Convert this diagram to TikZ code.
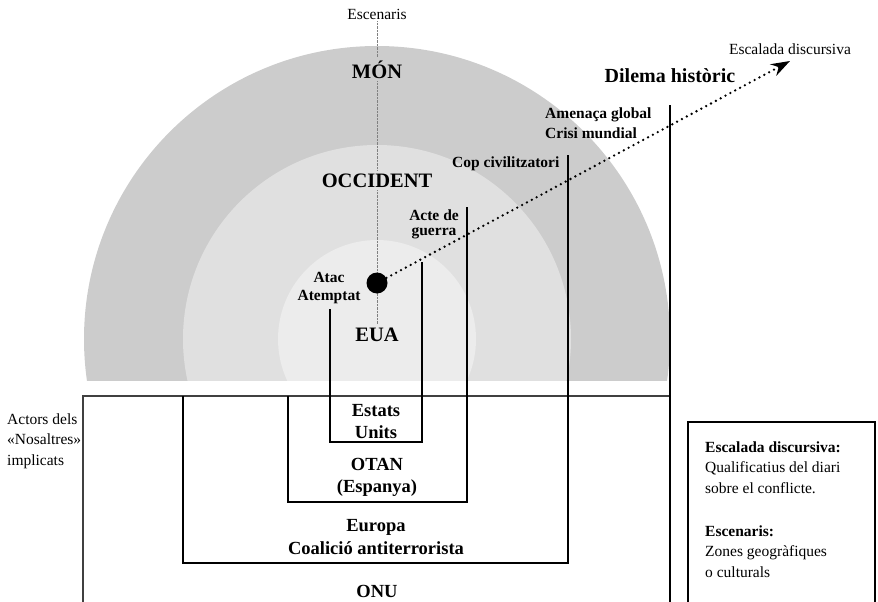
\documentclass[tikz,border=0pt]{standalone}
\usepackage{fontspec}
\setmainfont{Liberation Serif}
\usepackage{tikz}
\usetikzlibrary{arrows.meta}

\definecolor{greyout}{gray}{0.80}
\definecolor{greymid}{gray}{0.878}
\definecolor{greyin}{gray}{0.925}

\tikzset{
  lbl/.style={font=\fontsize{15.5}{20.5}\selectfont, inner sep=1pt},
  lblb/.style={font=\fontsize{15.5}{17}\selectfont\bfseries, align=center, inner sep=1pt},
  scen/.style={font=\fontsize{20.5}{24}\selectfont\bfseries, inner sep=3pt},
  actor/.style={font=\fontsize{18.5}{21.5}\selectfont\bfseries, align=center, inner sep=1pt},
  bar/.style={line width=1.1pt},
  frame/.style={black!75, line width=1.4pt},
  axisdot/.style={gray, densely dotted, thin},
  escal/.style={line width=2.6pt, dash pattern=on 0pt off 5.5pt, line cap=round, -{Stealth[length=19pt,width=13pt]}}
}

\begin{document}
\begin{tikzpicture}[x=1pt,y=-1pt]
\useasboundingbox (0,0) rectangle (878,602);

% escenaris
\begin{scope}
\clip (0,0) rectangle (878,380);
\fill[greyout] (377,339) circle (293pt);
\fill[greymid] (377,339) circle (194pt);
\fill[greyin] (377,339) circle (99pt);
\end{scope}

\node[lbl, anchor=base] (esc) at (377,20) {Escenaris};
\node[scen, anchor=base] (mon) at (377,78) {MÓN};
\node[scen, anchor=base] (occ) at (377,187) {OCCIDENT};
\node[scen, anchor=base] (eua) at (377,341) {EUA};
\draw[axisdot] (esc) -- (mon);
\draw[axisdot] (mon) -- (occ);
\draw[axisdot] (occ) -- (eua);

% actors
\draw[frame] (83,610) -- (83,396) -- (670,396);
\draw[bar] (670,105) -- (670,610);
\draw[bar] (183,396) -- (183,563) -- (568,563) -- (568,155);
\draw[bar] (288,396) -- (288,502) -- (467,502) -- (467,207);
\draw[bar] (330,309) -- (330,442) -- (422,442) -- (422,262);

\node[actor, anchor=base] (eu) at (376,438) {Estats\\Units};
\node[actor, anchor=base] (otan) at (377,492) {OTAN\\(Espanya)};
\node[actor, anchor=base] (europa) at (376,554) {Europa\\[1pt]Coalició antiterrorista};
\node[actor, anchor=base] (onu) at (377,597) {ONU};

\node[lbl, align=left, anchor=base west] (actors) at (6,465) {Actors dels\\«Nosaltres»\\implicats};

% escalada
\node[lblb, anchor=base] (atac) at (329,300) {Atac\\[1pt]Atemptat};
\node[lblb, anchor=base] (acte) at (434,235) {Acte de\\[-2pt]guerra};
\node[lblb, anchor=base west] (cop) at (451,167) {Cop civilitzatori};
\node[lblb, align=left, anchor=base west] (amen) at (544,138) {Amenaça global\\[3pt]Crisi mundial};
\node[font=\fontsize{20}{24}\selectfont\bfseries, inner sep=1pt, anchor=base] (dilema) at (670,82) {Dilema històric};
\node[lbl, anchor=base] (escal) at (790,55) {Escalada discursiva};

\node[circle, fill=black, inner sep=0pt, minimum size=21pt] (dot) at (377,283) {};
\coordinate (tip) at (790,61);
\draw[escal] (dot) -- (tip);

% llegenda
\draw[bar] (688,610) -- (688,422) -- (875,422) -- (875,610);
\node[lbl, align=left, anchor=base west] (ley1) at (704,493) {\textbf{Escalada discursiva:}\\Qualificatius del diari\\sobre el conflicte.};
\node[lbl, align=left, anchor=base west] (ley2) at (704,577) {\textbf{Escenaris:}\\Zones geogràfiques\\o culturals};
\end{tikzpicture}
\end{document}
